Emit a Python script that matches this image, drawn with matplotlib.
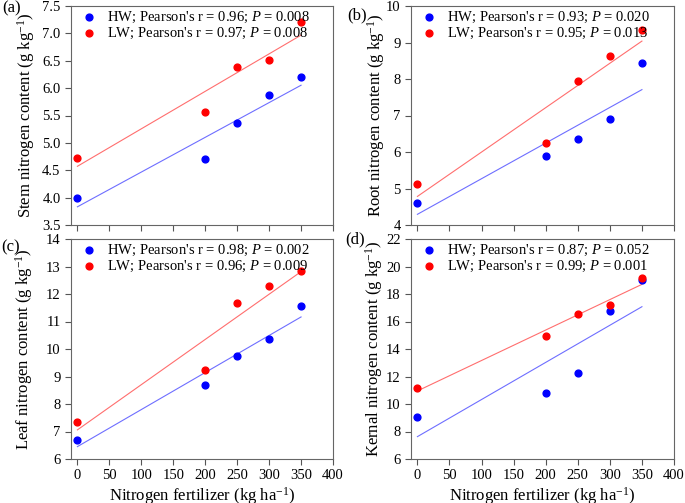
import numpy as np
import matplotlib
matplotlib.use("Agg")
import matplotlib.pyplot as plt

plt.rcParams['font.family'] = ['Liberation Serif', 'DejaVu Serif']
plt.rcParams['mathtext.fontset'] = 'custom'
plt.rcParams['mathtext.rm'] = 'Liberation Serif'
plt.rcParams['mathtext.it'] = 'Liberation Serif:italic'

# nitrogen fertilizer levels (kg ha-1)
n_rate = [0, 200, 250, 300, 350]

# (a) stem
stem_hw = [4.0, 4.7, 5.36, 5.88, 6.2]
stem_lw = [4.72, 5.56, 6.39, 6.52, 7.2]
# (b) root
root_hw = [4.6, 5.88, 6.36, 6.91, 8.45]
root_lw = [5.13, 6.26, 7.94, 8.63, 9.33]
# (c) leaf
leaf_hw = [6.68, 8.69, 9.75, 10.38, 11.57]
leaf_lw = [7.35, 9.23, 11.68, 12.28, 12.84]
# (d) kernel
kern_hw = [9.05, 10.78, 12.25, 16.75, 19.0]
kern_lw = [11.15, 14.98, 16.58, 17.2, 19.2]

panels = [
    ("(a)", "Stem", stem_hw, stem_lw, ("0.96", "0.008"), ("0.97", "0.008"), (3.5, 7.5, 0.5)),
    ("(b)", "Root", root_hw, root_lw, ("0.93", "0.020"), ("0.95", "0.013"), (4, 10, 1)),
    ("(c)", "Leaf", leaf_hw, leaf_lw, ("0.98", "0.002"), ("0.96", "0.009"), (6, 14, 1)),
    ("(d)", "Kernal", kern_hw, kern_lw, ("0.87", "0.052"), ("0.99", "0.001"), (6, 22, 2)),
]

W, H = 685.0, 503.0
# axes boxes in pixels: left, top, right, bottom
boxes = [(71, 6, 333, 225), (411, 6, 674, 225), (71, 239, 333, 459), (411, 239, 674, 459)]
ylab_x = [-0.13, -0.09, -0.137, -0.099]
tag_xy = [(2, 8), (347, 15), (1, 247), (345, 239)]

fig = plt.figure(figsize=(6.85, 5.03), dpi=100)

x = np.array(n_rate)
for i, (tag, organ, hw, lw, stat_hw, stat_lw, yr) in enumerate(panels):
    l, t, r, b = boxes[i]
    ax = fig.add_axes([l / W, 1 - b / H, (r - l) / W, (b - t) / H])
    # regression lines
    for ys, lc in [(hw, '#6e6eff'), (lw, '#ff6e6e')]:
        k, c = np.polyfit(x, ys, 1)
        ax.plot([x[0], x[-1]], [c, k * x[-1] + c], color=lc, lw=0.8)
    ax.scatter(x, hw, s=24, color='#0000ff', zorder=3,
               label="HW; Pearson's r = %s; $P$ = %s" % stat_hw)
    ax.scatter(x, lw, s=24, color='#ff0000', zorder=3,
               label="LW; Pearson's r = %s; $P$ = %s" % stat_lw)

    ax.set_xlim(-10, 400)
    ax.set_xticks(range(0, 401, 50))
    ax.set_ylim(yr[0], yr[1])
    ax.set_yticks(np.arange(yr[0], yr[1] + yr[2] / 2, yr[2]))
    if organ == "Stem":
        ax.yaxis.set_major_formatter(matplotlib.ticker.FormatStrFormatter('%.1f'))
    if i < 2:
        ax.set_xticklabels([])
    else:
        ax.set_xlabel("Nitrogen fertilizer (kg ha$^{-1}$)", fontsize=12)
        ax.xaxis.set_label_coords(0.5, -0.118)
    ax.set_ylabel("%s nitrogen content (g kg$^{-1}$)" % organ, fontsize=12)
    ax.yaxis.set_label_coords(ylab_x[i], 0.5)
    ax.tick_params(direction='out', length=4, width=0.8, labelsize=10.5, color='#555555')
    for sp in ax.spines.values():
        sp.set_color('#666666')
        sp.set_linewidth(0.8)
    ax.legend(loc='upper left', frameon=False, fontsize=10.5, handletextpad=0.7,
              borderaxespad=0.0, labelspacing=0.05, handlelength=1.0,
              bbox_to_anchor=(0.02, 1.01))
    fig.text(tag_xy[i][0] / W, 1 - tag_xy[i][1] / H, tag, fontsize=12,
             ha='left', va='center')

fig.savefig("out.png", dpi=100)
